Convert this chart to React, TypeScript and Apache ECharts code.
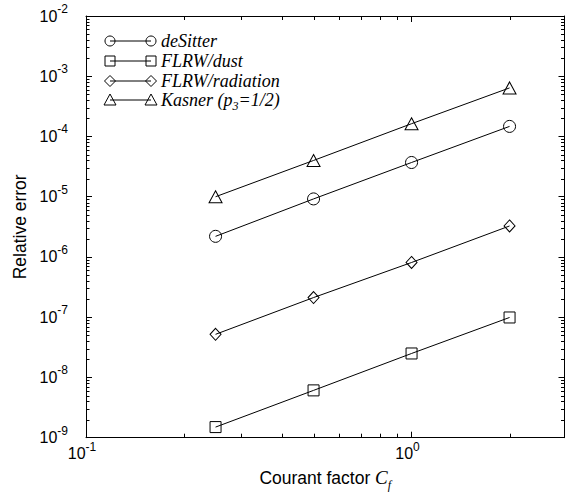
import React, { useEffect, useRef } from "react";
import * as echarts from "echarts";

// ---- data ----
const courantFactor = [0.25, 0.5, 1, 2];
const deSitterErr = [2.2e-6, 9.2e-6, 3.7e-5, 1.47e-4];
const flrwDustErr = [1.5e-9, 6.1e-9, 2.5e-8, 9.9e-8];
const flrwRadiationErr = [5.2e-8, 2.12e-7, 8.1e-7, 3.27e-6];
const kasnerErr = [1.0e-5, 4.0e-5, 1.63e-4, 6.4e-4];

const seriesNames = ["deSitter", "FLRW/dust", "FLRW/radiation", "Kasner (p3=1/2)"];

// tick positions
const xMinorTicks = [0.2, 0.3, 0.4, 0.5, 0.6, 0.7, 0.8, 0.9, 2];
const yDecades = [1e-9, 1e-8, 1e-7, 1e-6, 1e-5, 1e-4, 1e-3];
const minorMultipliers = [2, 3, 4, 5, 6, 7, 8, 9];

const SANS = '"Liberation Sans", Arial, sans-serif';
const SERIF = '"Liberation Serif", "Times New Roman", serif';

const powLabel = (v: number) => {
  const l = Math.log10(v);
  const e = Math.round(l);
  if (Math.abs(l - e) > 1e-6) return "";
  return `{b|10}{s|${e}}`;
};

const labelRich = {
  b: { fontSize: 16, fontFamily: SANS, color: "#000", lineHeight: 26 },
  s: { fontSize: 12, fontFamily: SANS, color: "#000", lineHeight: 13, verticalAlign: "top" },
};

export default function App() {
  const ref = useRef<HTMLDivElement>(null);

  useEffect(() => {
    if (!ref.current) return;
    const chart = echarts.init(ref.current, undefined, { renderer: "svg" });

    const yMinorTicks: number[] = [];
    yDecades.forEach((d) => minorMultipliers.forEach((m) => yMinorTicks.push(m * d)));

    const mkLine = (name: string, data: number[], symbol: string, size: any) => ({
      name,
      type: "line",
      data: courantFactor.map((x, i) => [x, data[i]]),
      symbol,
      symbolSize: size,
      showSymbol: true,
      lineStyle: { color: "#000", width: 1 },
      itemStyle: { color: "rgba(0,0,0,0)", borderColor: "#000", borderWidth: 1 },
      z: 3,
    });

    const legendRows = [41, 61, 81, 100];
    const lx1 = 110;
    const lx2 = 151;
    const textX = 161;
    const stroke = { fill: "none", stroke: "#000", lineWidth: 1 };
    const legendGraphics: any[] = [];
    legendRows.forEach((y, i) => {
      legendGraphics.push({ type: "line", shape: { x1: lx1, y1: y, x2: lx2, y2: y }, style: { stroke: "#000", lineWidth: 1 } });
      [lx1, lx2].forEach((cx) => {
        if (i === 0) legendGraphics.push({ type: "circle", shape: { cx, cy: y, r: 5 }, style: stroke });
        if (i === 1) legendGraphics.push({ type: "rect", shape: { x: cx - 5, y: y - 5, width: 10, height: 10 }, style: stroke });
        if (i === 2)
          legendGraphics.push({
            type: "polygon",
            shape: { points: [[cx, y - 5.5], [cx + 5.5, y], [cx, y + 5.5], [cx - 5.5, y]] },
            style: stroke,
          });
        if (i === 3)
          legendGraphics.push({
            type: "polygon",
            shape: { points: [[cx, y - 6], [cx + 6, y + 5], [cx - 6, y + 5]] },
            style: stroke,
          });
      });
    });
    const legendTextStyle = { fontSize: 18, fontStyle: "italic", fontFamily: SERIF, fill: "#000" };
    seriesNames.slice(0, 3).forEach((n, i) => {
      legendGraphics.push({
        type: "text",
        style: { text: n, x: textX, y: legendRows[i], verticalAlign: "middle", ...legendTextStyle },
      });
    });
    legendGraphics.push({
      type: "text",
      style: {
        text: "{i|Kasner (p}{s|3}{i|=1/2)}",
        x: textX,
        y: legendRows[3],
        verticalAlign: "middle",
        rich: {
          i: { fontSize: 18, fontStyle: "italic", fontFamily: SERIF, fill: "#000", lineHeight: 24 },
          s: { fontSize: 12, fontStyle: "italic", fontFamily: SERIF, fill: "#000", lineHeight: 12, verticalAlign: "bottom" },
        },
      },
    });

    const axisCommonX = {
      type: "log",
      logBase: 10,
      min: 0.1,
      max: 2.95,
      splitLine: { show: false },
      axisLine: { show: true, lineStyle: { color: "#000", width: 1 } },
      axisTick: { show: true, inside: true, length: 6, lineStyle: { color: "#000" } },
      minorTick: { show: false },
    };
    const axisCommonY = {
      type: "log",
      logBase: 10,
      min: 1e-9,
      max: 1e-2,
      splitNumber: 7,
      splitLine: { show: false },
      axisLine: { show: true, lineStyle: { color: "#000", width: 1 } },
      axisTick: { show: true, inside: true, length: 6, lineStyle: { color: "#000" } },
      minorTick: { show: false },
    };

    const option: any = {
      animation: false,
      backgroundColor: "#fff",
      grid: { left: 86, right: 1.5, top: 16, bottom: 55.3, containLabel: false, outerBoundsMode: "none" },
      xAxis: [
        {
          ...axisCommonX,
          position: "bottom",
          name: "{a|Courant factor }{c|C}{f|f}",
          nameLocation: "middle",
          nameGap: 27,
          nameTextStyle: {
            rich: {
              a: { fontSize: 17.5, fontFamily: SANS, color: "#000", lineHeight: 26 },
              c: { fontSize: 19, fontFamily: SERIF, fontStyle: "italic", color: "#000", lineHeight: 26 },
              f: { fontSize: 12, fontFamily: SERIF, fontStyle: "italic", color: "#000", lineHeight: 12, verticalAlign: "bottom" },
            },
          },
          axisLabel: {
            show: true,
            interval: 0,
            margin: 3,
            showMinLabel: true,
            showMaxLabel: true,
            padding: [0, 8, 0, 0],
            formatter: powLabel,
            rich: labelRich,
          },
        },
        {
          ...axisCommonX,
          position: "top",
          axisLabel: { show: false },
        },
      ],
      yAxis: [
        {
          ...axisCommonY,
          position: "left",
          name: "Relative error",
          nameLocation: "middle",
          nameGap: 55,
          nameRotate: 90,
          nameTextStyle: { fontSize: 17.5, fontFamily: SANS, color: "#000" },
          axisLabel: {
            show: true,
            interval: 0,
            margin: 18,
            showMinLabel: true,
            showMaxLabel: true,
            formatter: powLabel,
            rich: labelRich,
          },
        },
        {
          ...axisCommonY,
          position: "right",
          axisLabel: { show: false },
        },
      ],
      series: [
        mkLine(seriesNames[0], deSitterErr, "circle", 12),
        mkLine(seriesNames[1], flrwDustErr, "rect", 11),
        mkLine(seriesNames[2], flrwRadiationErr, "diamond", [11, 12]),
        mkLine(seriesNames[3], kasnerErr, "triangle", [13, 12]),
        {
          type: "custom",
          coordinateSystem: "cartesian2d",
          xAxisIndex: 0,
          yAxisIndex: 0,
          silent: true,
          clip: false,
          z: 4,
          data: xMinorTicks.map((v) => [v, 1e-5]),
          renderItem: (params: any, api: any) => {
            const cs = params.coordSys;
            const x = Math.round(api.coord([api.value(0), api.value(1)])[0]) + 0.5;
            const yb = cs.y + cs.height;
            const yt = cs.y;
            return {
              type: "group",
              children: [
                { type: "line", shape: { x1: x, y1: yb, x2: x, y2: yb - 4 }, style: { stroke: "#000", lineWidth: 1 } },
                { type: "line", shape: { x1: x, y1: yt, x2: x, y2: yt + 4 }, style: { stroke: "#000", lineWidth: 1 } },
              ],
            };
          },
        },
        {
          type: "custom",
          coordinateSystem: "cartesian2d",
          xAxisIndex: 0,
          yAxisIndex: 0,
          silent: true,
          clip: false,
          z: 4,
          data: yMinorTicks.map((v) => [1, v]),
          renderItem: (params: any, api: any) => {
            const cs = params.coordSys;
            const y = Math.round(api.coord([api.value(0), api.value(1)])[1]) + 0.5;
            const xl = cs.x;
            const xr = cs.x + cs.width;
            return {
              type: "group",
              children: [
                { type: "line", shape: { x1: xl, y1: y, x2: xl + 3.5, y2: y }, style: { stroke: "#000", lineWidth: 1 } },
                { type: "line", shape: { x1: xr, y1: y, x2: xr - 3.5, y2: y }, style: { stroke: "#000", lineWidth: 1 } },
              ],
            };
          },
        },
      ],
      graphic: legendGraphics,
    };

    chart.setOption(option);
    return () => chart.dispose();
  }, []);

  return <div ref={ref} style={{ position: "absolute", left: 0, top: 0, width: 566, height: 493 }} />;
}
